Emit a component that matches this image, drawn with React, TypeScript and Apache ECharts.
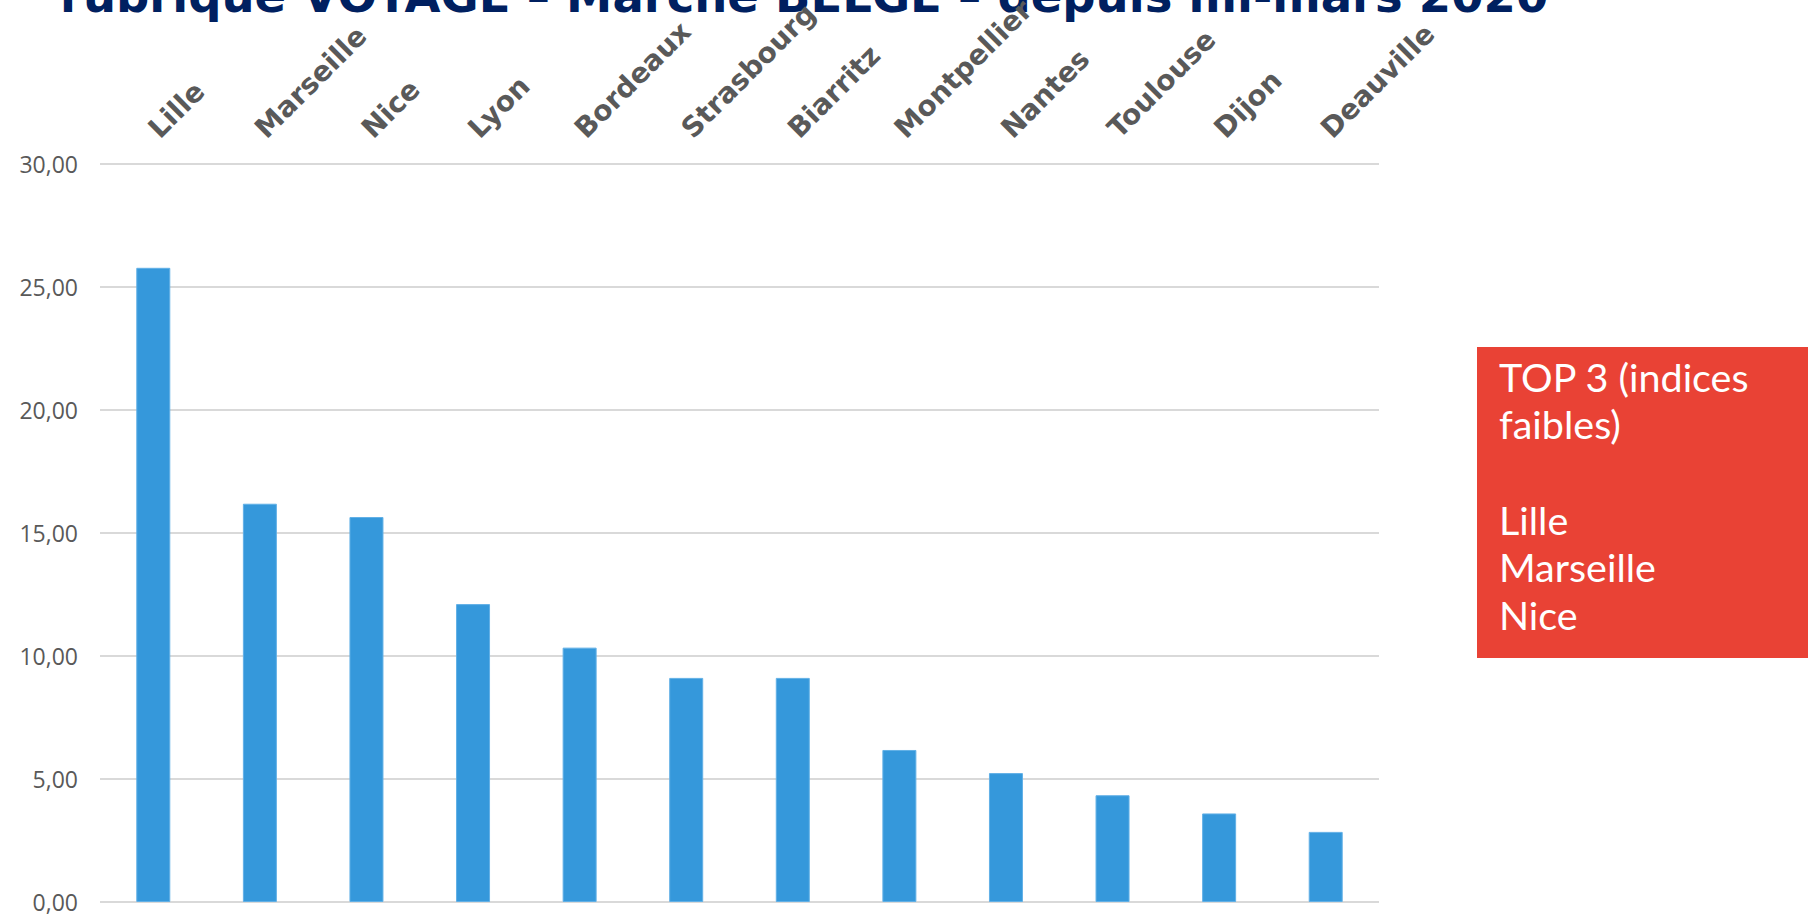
import React, { useEffect, useRef } from "react";
import * as echarts from "echarts";

const categories = ["Lille", "Marseille", "Nice", "Lyon", "Bordeaux", "Strasbourg", "Biarritz", "Montpellier", "Nantes", "Toulouse", "Dijon", "Deauville"];
const values = [25.78, 16.19, 15.65, 12.11, 10.34, 9.11, 9.11, 6.18, 5.24, 4.34, 3.6, 2.85];
const titleText = "rubrique VOYAGE – Marché BELGE – depuis mi-mars 2020";
const boxLines = ["TOP 3 (indices", "faibles)", "", "Lille", "Marseille", "Nice"];

export default function App() {
  const ref = useRef<HTMLDivElement>(null);
  useEffect(() => {
    if (!ref.current) return;
    const chart = echarts.init(ref.current, null, { renderer: "svg" });
    const boxTexts = boxLines
      .map((line, i) => ({ line, i }))
      .filter((o) => o.line !== "")
      .map((o) => ({
        type: "text",
        x: 1499,
        y: 376 + o.i * 47.7,
        style: {
          text: o.line,
          fill: "#ffffff",
          font: "39.5px Lato",
          verticalAlign: "middle",
        },
      }));
    chart.setOption({
      animation: false,
      backgroundColor: "#ffffff",
      grid: { left: 100, right: 429, top: 164, bottom: 13, containLabel: false, outerBoundsMode: "none" },
      xAxis: {
        type: "category",
        position: "top",
        data: categories,
        axisLine: { show: false },
        axisTick: { show: false },
        axisLabel: {
          rotate: 45,
          interval: 0,
          margin: 31,
          color: "#595959",
          fontFamily: "DejaVu Sans",
          fontWeight: "bold",
          fontSize: 28,
        },
      },
      yAxis: {
        type: "value",
        min: 0,
        max: 30,
        interval: 5,
        axisLine: { show: false },
        axisTick: { show: false },
        splitLine: { lineStyle: { color: "#d9d9d9", width: 2 } },
        axisLabel: {
          margin: 22,
          color: "#595959",
          fontFamily: "Open Sans",
          fontSize: 23,
          lineHeight: 23,
          formatter: (v: number) => v.toFixed(2).replace(".", ","),
        },
      },
      series: [
        {
          type: "bar",
          data: values,
          barWidth: 34,
          itemStyle: { color: "#3598db", borderColor: "#62b0e6", borderWidth: 1 },
        },
      ],
      graphic: [
        {
          type: "text",
          left: 60,
          top: -28,
          style: {
            text: titleText,
            fill: "#002060",
            font: "bold 46.5px 'DejaVu Sans'",
          },
        },
        {
          type: "rect",
          shape: { x: 1477, y: 347, width: 331, height: 311 },
          style: { fill: "#e94235" },
        },
        ...boxTexts,
      ],
    });
    return () => chart.dispose();
  }, []);
  return <div ref={ref} style={{ position: "fixed", left: 0, top: 0, width: 1808, height: 915 }} />;
}
